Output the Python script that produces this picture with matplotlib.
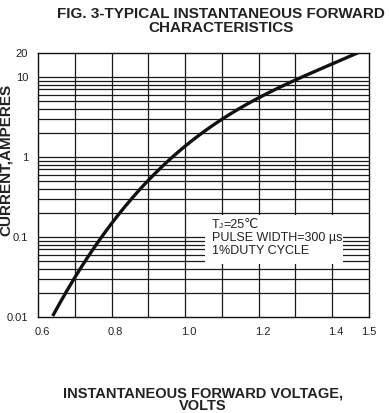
import matplotlib
matplotlib.use("Agg")
import matplotlib.pyplot as plt
import matplotlib.transforms as mtrans
import numpy as np
from matplotlib.ticker import FixedLocator, NullFormatter

volts = [0.64, 0.70, 0.80, 0.90, 1.00, 1.10, 1.20, 1.30, 1.40, 1.484]
amps = [0.01, 0.028, 0.2, 0.5, 1.15, 2.7, 5.7, 10.3, 15.3, 20.0]

x_ticks = [0.6, 0.8, 1.0, 1.2, 1.4, 1.5]
x_tick_labels = ["0.6", "0.8", "1.0", "1.2", "1.4", "1.5"]
x_grid = [0.7, 0.8, 0.9, 1.0, 1.1, 1.2, 1.3, 1.4]
y_ticks = [0.01, 0.1, 1, 10, 20]
y_tick_labels = ["0.01", "0.1", "1", "10", "20"]

plt.rcParams['font.family'] = ['Liberation Sans', 'DejaVu Sans']

W, H = 389, 413
fig = plt.figure(figsize=(W / 100, H / 100), dpi=100)
L, R, T, B = 38, 369, 53, 317
ax = fig.add_axes([L / W, 1 - B / H, (R - L) / W, (B - T) / H])
ax.set_yscale('log')
ax.set_xlim(0.6, 1.5)
ax.set_ylim(0.01, 20)

# grid
for xv in x_grid:
    ax.axvline(xv, color='#1a1a1a', lw=0.9, zorder=1)
minor = []
for dec in [0.01, 0.1, 1]:
    for k in range(2, 11):
        minor.append(dec * k)
for yv in minor:
    if yv < 20:
        ax.axhline(yv, color='#1a1a1a', lw=0.9, zorder=1)

# smooth curve through the read points (fit in log space)
lv = np.log10(amps)
xs = np.linspace(volts[0], volts[-1], 300)
coef = np.polyfit(volts, lv, 3)
ys = 10 ** np.polyval(coef, xs)
ax.plot(xs, ys, color='#111111', lw=2.4, zorder=3, solid_capstyle='butt')

ax.set_xticks(x_ticks)
ax.set_xticklabels(x_tick_labels)
ax.yaxis.set_major_locator(FixedLocator(y_ticks))
ax.yaxis.set_minor_locator(FixedLocator([]))
ax.yaxis.set_minor_formatter(NullFormatter())
ax.set_yticklabels(y_tick_labels)
ax.tick_params(axis='both', length=0, labelsize=8, colors='#222222')
ax.tick_params(axis='x', pad=7)
ax.tick_params(axis='y', pad=7)
shift = mtrans.ScaledTranslation(4 / 100, 0, fig.dpi_scale_trans)
for i, lab in enumerate(ax.get_xticklabels()):
    if i < len(x_ticks) - 1:
        lab.set_transform(lab.get_transform() + shift)
for s in ax.spines.values():
    s.set_color('#111111')
    s.set_linewidth(1.0)

# annotation box (white, hides the grid)
fig.patches.append(plt.Rectangle((205 / W, 1 - 264 / H), (343 - 205) / W, (264 - 215) / H,
                                 transform=fig.transFigure, facecolor='white',
                                 edgecolor='none', zorder=5))
tx = 212 / W
fig.text(tx, 1 - 225 / H, "T", fontsize=9, color='#222222', va='center', ha='left', zorder=6)
fig.text(tx + 7 / W, 1 - 227 / H, "J", fontsize=6, color='#222222', va='center', ha='left', zorder=6)
fig.text(tx + 11 / W, 1 - 225 / H, "=25\u2103", fontsize=9, color='#222222',
         va='center', ha='left', zorder=6)
fig.text(tx, 1 - 238 / H, "PULSE WIDTH=300 \u00b5s", fontsize=9, color='#222222',
         va='center', ha='left', zorder=6)
fig.text(tx, 1 - 251 / H, "1%DUTY CYCLE", fontsize=9, color='#222222',
         va='center', ha='left', zorder=6)

fig.text(221 / W, 1 - 21 / H, "FIG. 3-TYPICAL INSTANTANEOUS FORWARD\nCHARACTERISTICS",
         fontsize=11, fontweight='bold', color='#222222', ha='center', va='center',
         linespacing=0.95)
fig.text(6 / W, 1 - 160 / H, "CURRENT,AMPERES", fontsize=11, fontweight='bold',
         color='#222222', rotation=90, ha='center', va='center')
fig.text(203 / W, 1 - 400 / H, "INSTANTANEOUS FORWARD VOLTAGE,\nVOLTS", fontsize=10.5,
         fontweight='bold', color='#222222', ha='center', va='center', linespacing=0.85)

fig.savefig("out.png", dpi=100)
